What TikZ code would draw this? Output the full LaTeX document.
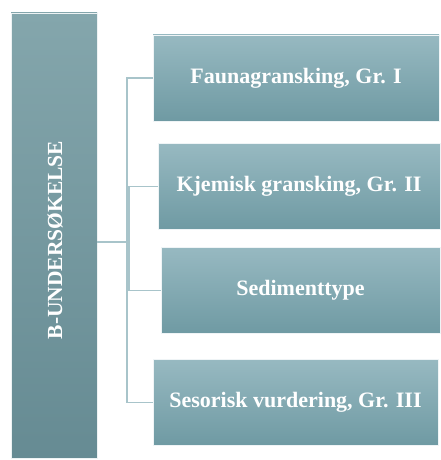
\documentclass[tikz,border=0pt]{standalone}
\usepackage{fontspec}
\setmainfont{Liberation Serif}
\usetikzlibrary{positioning}
\definecolor{boxtop}{HTML}{97B9C1}
\definecolor{boxbot}{HTML}{6F9AA3}
\definecolor{maintop}{HTML}{84A6AC}
\definecolor{mainbot}{HTML}{668B93}
\definecolor{linkcol}{HTML}{A8C4CA}
\tikzset{
  item/.style={draw=white!85!boxtop, line width=0.6pt, top color=boxtop, bottom color=boxbot,
    minimum height=86pt, inner sep=0pt, text=white,
    font=\fontsize{22}{26}\selectfont\bfseries},
  mainbox/.style={draw=white!85!maintop, line width=0.6pt, top color=maintop, bottom color=mainbot,
    minimum width=86pt, minimum height=445pt, inner sep=0pt},
  link/.style={draw=linkcol, line width=1.3pt}
}
\begin{document}
\begin{tikzpicture}[x=1pt,y=1pt]
\useasboundingbox (0,0) rectangle (440,460);
\node[mainbox] (main) at (54,224.5) {};
\node[rotate=90, text=white, font=\fontsize{21.5}{24}\selectfont\bfseries] (mainlabel) at (55,220) {B-UNDERSØKELSE};
\node[item, minimum width=286pt] (fauna) at (296,382) {Faunagransking, Gr. I};
\node[item, minimum width=282pt] (kjemi) at (299,273.5) {Kjemisk gransking, Gr. II};
\node[item, minimum width=279pt] (sediment) at (300.5,169.5) {Sedimenttype};
\node[item, minimum width=285pt] (sensor) at (295.5,57.5) {Sesorisk vurdering, Gr. III};
\coordinate (trunka) at (127,218);
\coordinate (trunkb) at (129,218);
\draw[link] (main.east |- trunkb) -- (trunkb);
\draw[link] (fauna.west) -- (fauna.west -| trunka) -- (sensor.west -| trunka) -- (sensor.west);
\draw[link] (kjemi.west) -- (kjemi.west -| trunkb) -- (sediment.west -| trunkb) -- (sediment.west);
\end{tikzpicture}
\end{document}
